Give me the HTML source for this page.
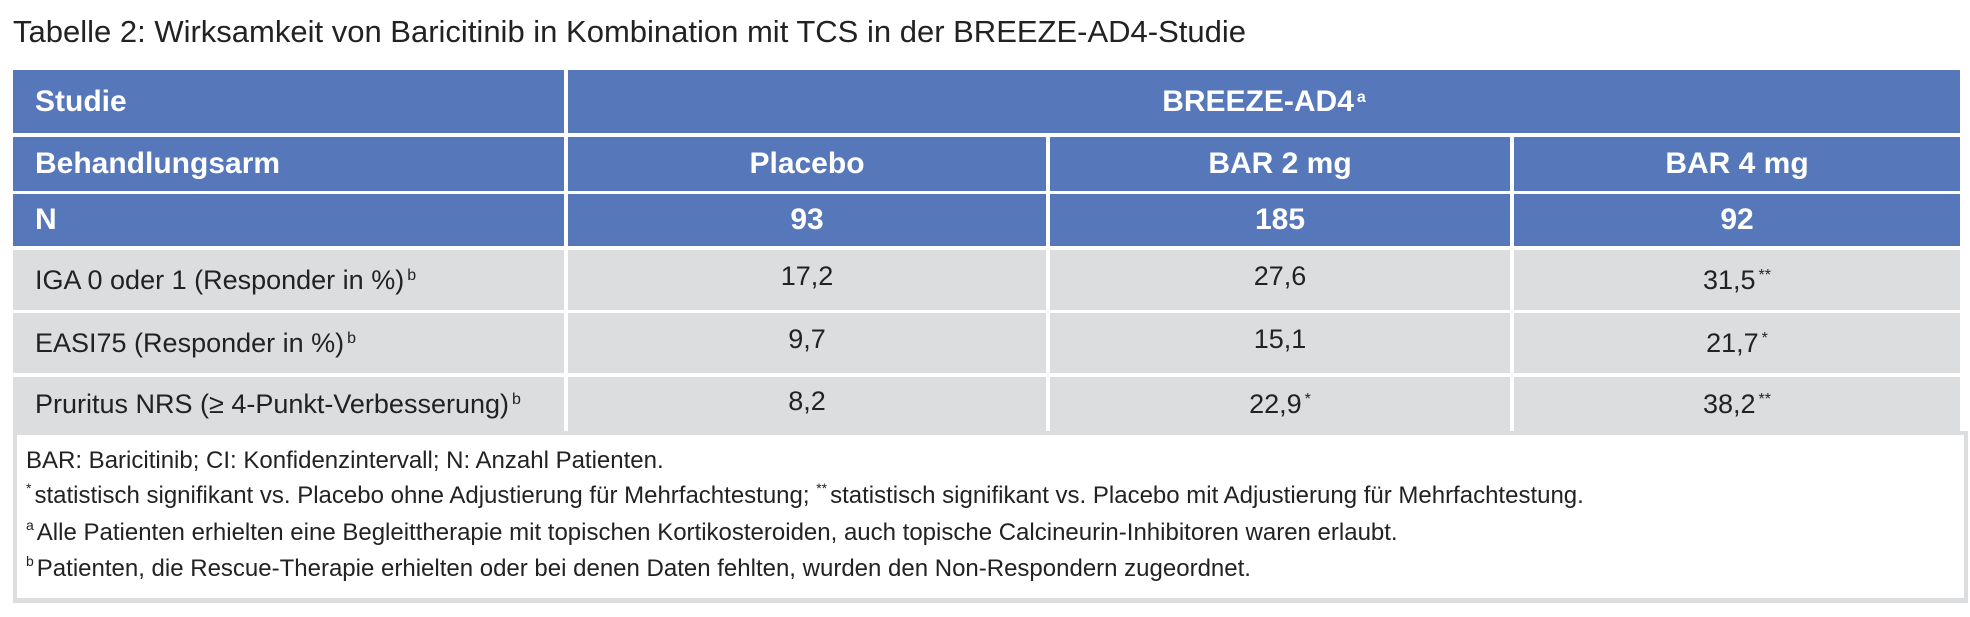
<!DOCTYPE html>
<html><head><meta charset="utf-8"><style>
body{margin:0;width:1970px;height:617px;background:#fff;position:relative;overflow:hidden;font-family:"Liberation Sans",sans-serif;}
div{position:absolute;box-sizing:border-box;}
.b{background:#5677b9;color:#fff;font-weight:bold;font-size:30px;display:flex;align-items:center;white-space:nowrap;}
.g{background:#dcdddf;color:#222;font-size:27px;display:flex;align-items:center;white-space:nowrap;}
.c{justify-content:center;}
.l{padding-left:22px;}
sup{font-size:16px;vertical-align:top;position:relative;top:-4px;margin-left:3px;}
.fn{left:26px;font-size:24px;color:#222;white-space:nowrap;}
.fn sup{font-size:14px;top:-2px;margin-left:0;margin-right:3px;}
</style></head><body>
<div style="left:13px;top:14px;font-size:31px;color:#222;white-space:nowrap;">Tabelle 2: Wirksamkeit von Baricitinib in Kombination mit TCS in der BREEZE-AD4-Studie</div>

<div class="b l" style="left:13px;top:70px;width:551px;height:63px;">Studie</div>
<div class="b c" style="left:568px;top:70px;width:1392px;height:63px;">BREEZE-AD4<sup>a</sup></div>

<div class="b l" style="left:13px;top:137px;width:551px;height:54px;">Behandlungsarm</div>
<div class="b c" style="left:568px;top:137px;width:478px;height:54px;">Placebo</div>
<div class="b c" style="left:1050px;top:137px;width:460px;height:54px;">BAR 2 mg</div>
<div class="b c" style="left:1514px;top:137px;width:446px;height:54px;">BAR 4 mg</div>

<div class="b l" style="left:13px;top:194px;width:551px;height:52px;">N</div>
<div class="b c" style="left:568px;top:194px;width:478px;height:52px;">93</div>
<div class="b c" style="left:1050px;top:194px;width:460px;height:52px;">185</div>
<div class="b c" style="left:1514px;top:194px;width:446px;height:52px;">92</div>

<div style="left:13px;top:431px;width:1955px;height:172px;background:#dcdddf;"></div>

<div class="g l" style="left:13px;top:250px;width:551px;height:60px;">IGA 0 oder 1 (Responder in %)<sup>b</sup></div>
<div class="g c" style="left:568px;top:250px;width:478px;height:60px;padding-bottom:8px;">17,2</div>
<div class="g c" style="left:1050px;top:250px;width:460px;height:60px;padding-bottom:8px;">27,6</div>
<div class="g c" style="left:1514px;top:250px;width:446px;height:60px;">31,5<sup>**</sup></div>

<div class="g l" style="left:13px;top:313px;width:551px;height:60px;">EASI75 (Responder in %)<sup>b</sup></div>
<div class="g c" style="left:568px;top:313px;width:478px;height:60px;padding-bottom:8px;">9,7</div>
<div class="g c" style="left:1050px;top:313px;width:460px;height:60px;padding-bottom:8px;">15,1</div>
<div class="g c" style="left:1514px;top:313px;width:446px;height:60px;">21,7<sup>*</sup></div>

<div class="g l" style="left:13px;top:377px;width:551px;height:54px;">Pruritus NRS (≥ 4-Punkt-Verbesserung)<sup>b</sup></div>
<div class="g c" style="left:568px;top:377px;width:478px;height:54px;padding-bottom:6px;">8,2</div>
<div class="g c" style="left:1050px;top:377px;width:460px;height:54px;">22,9<sup>*</sup></div>
<div class="g c" style="left:1514px;top:377px;width:446px;height:54px;">38,2<sup>**</sup></div>

<div style="left:17px;top:435px;width:1947px;height:163px;background:#fff;"></div>
<div class="fn" style="top:447px;">BAR: Baricitinib; CI: Konfidenzintervall; N: Anzahl Patienten.</div>
<div class="fn" style="top:482px;"><sup>*</sup>statistisch signifikant vs. Placebo ohne Adjustierung für Mehrfachtestung; <sup>**</sup>statistisch signifikant vs. Placebo mit Adjustierung für Mehrfachtestung.</div>
<div class="fn" style="top:519px;"><sup>a</sup>Alle Patienten erhielten eine Begleittherapie mit topischen Kortikosteroiden, auch topische Calcineurin-Inhibitoren waren erlaubt.</div>
<div class="fn" style="top:555px;"><sup>b</sup>Patienten, die Rescue-Therapie erhielten oder bei denen Daten fehlten, wurden den Non-Respondern zugeordnet.</div>
</body></html>
